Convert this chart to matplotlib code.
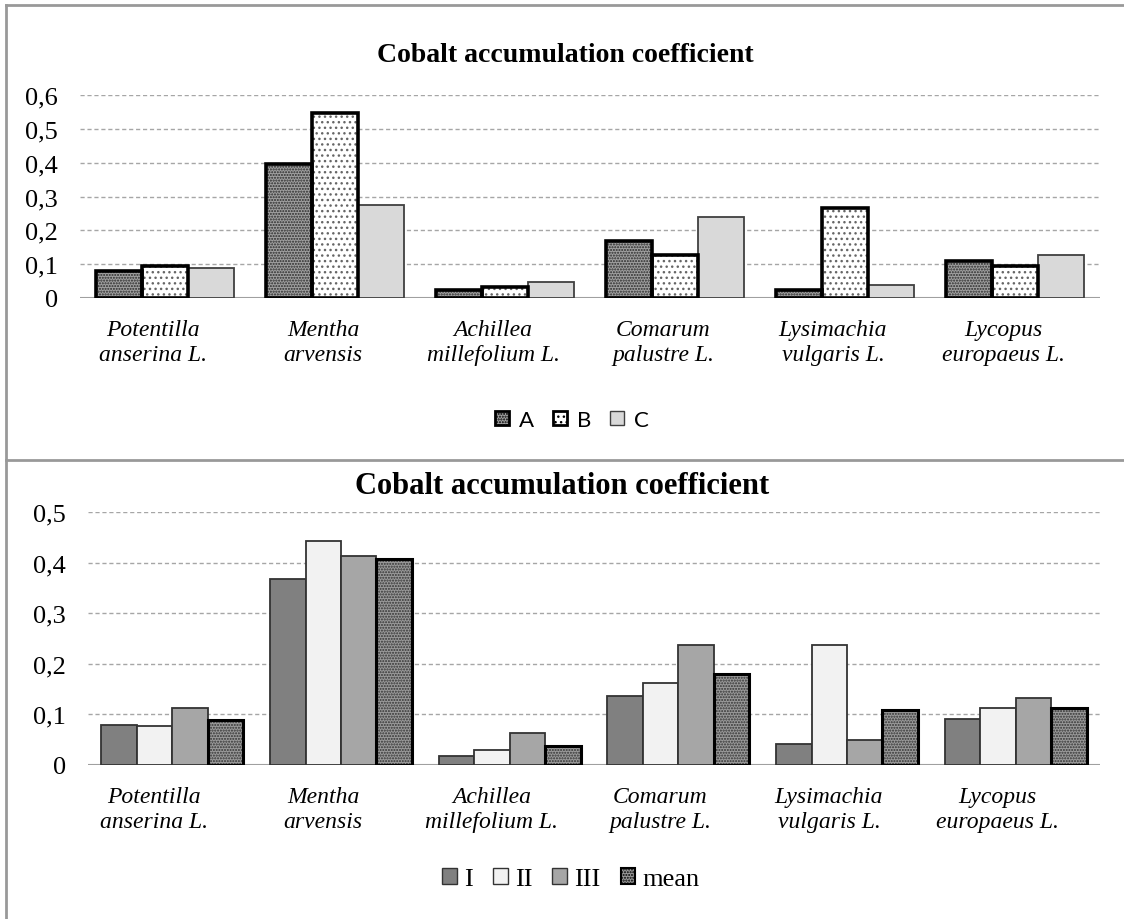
import matplotlib.pyplot as plt
import matplotlib.transforms as mtransforms
from matplotlib.patches import Patch
from matplotlib.lines import Line2D
import numpy as np

# species shown on both panels
species = ['Potentilla\nanserina L.', 'Mentha\narvensis', 'Achillea\nmillefolium L.',
           'Comarum\npalustre L.', 'Lysimachia\nvulgaris L.', 'Lycopus\neuropaeus L.']

# top panel: sites A, B, C
top_labels = ['A', 'B', 'C']
top_A = [0.080, 0.395, 0.025, 0.168, 0.025, 0.109]
top_B = [0.094, 0.547, 0.033, 0.126, 0.265, 0.096]
top_C = [0.088, 0.276, 0.046, 0.239, 0.038, 0.127]
top_ticks = [0, 0.1, 0.2, 0.3, 0.4, 0.5, 0.6]

# bottom panel: replicates I, II, III and mean
bot_labels = ['I', 'II', 'III', 'mean']
bot_I = [0.079, 0.368, 0.018, 0.136, 0.041, 0.090]
bot_II = [0.077, 0.442, 0.030, 0.162, 0.237, 0.113]
bot_III = [0.113, 0.413, 0.063, 0.237, 0.049, 0.133]
bot_mean = [0.089, 0.408, 0.038, 0.179, 0.108, 0.112]
bot_ticks = [0, 0.1, 0.2, 0.3, 0.4, 0.5]

serif = ['Liberation Serif', 'DejaVu Serif']
W, H = 1124, 920
fig = plt.figure(figsize=(W / 100, H / 100), dpi=100)


def fx(px):
    return px / W


def fy(py):
    return 1 - py / H


def style_axes(ax, ticks, ymax, xlabel_shift):
    ax.set_ylim(0, ymax)
    ax.set_xlim(-0.5, len(species) - 0.5)
    ax.set_yticks(ticks)
    ax.set_yticklabels([('%g' % t).replace('.', ',') for t in ticks],
                       fontfamily=serif, fontsize=19)
    ax.set_xticks(range(len(species)))
    ax.set_xticklabels(species, fontfamily=serif, fontstyle='italic', fontsize=17,
                       linespacing=1.25)
    ax.tick_params(length=0, axis='y', pad=16)
    ax.tick_params(length=0, axis='x', pad=15)
    off = mtransforms.ScaledTranslation(xlabel_shift / 100, 0, fig.dpi_scale_trans)
    for lab in ax.get_xticklabels():
        lab.set_transform(lab.get_transform() + off)
    for s in ax.spines.values():
        s.set_visible(False)
    ax.yaxis.grid(True, linestyle=(0, (3, 2)), color='#a6a6a6', linewidth=1)
    ax.set_axisbelow(True)
    ax.axhline(0, color='#a0a0a0', linewidth=1.5, zorder=1.5)


def bars(ax, x, vals, w, face, hatch=None, hcolor='k', edge='k', lw=1.2):
    if hatch:
        ax.bar(x, vals, w, color=face, hatch=hatch, edgecolor=hcolor, linewidth=0, zorder=2)
        ax.bar(x, vals, w, fill=False, edgecolor=edge, linewidth=lw, zorder=3)
    else:
        ax.bar(x, vals, w, color=face, edgecolor=edge, linewidth=lw, zorder=2)


x = np.arange(len(species))

# ---- top panel
ax1 = fig.add_axes([fx(80), fy(299), fx(1020), fy(96) - fy(299)])
w1 = 0.27
bars(ax1, x - w1, top_A, w1, '#a0a0a0', '......', '#2a2a2a', 'black', 2.6)
bars(ax1, x, top_B, w1, 'white', '...', '#666666', 'black', 2.6)
bars(ax1, x + w1, top_C, w1, '#d9d9d9', edge='#404040', lw=1.3)
style_axes(ax1, top_ticks, 0.6, -12)
fig.text(fx(565), fy(56), 'Cobalt accumulation coefficient', ha='center', va='center',
         fontfamily=serif, fontweight='bold', fontsize=20)

h1 = [Patch(facecolor='#a0a0a0', hatch='......', edgecolor='black', linewidth=2),
      Patch(facecolor='white', hatch='...', edgecolor='black', linewidth=2),
      Patch(facecolor='#d9d9d9', edgecolor='#404040', linewidth=1)]
fig.legend(h1, top_labels, loc='center', bbox_to_anchor=(fx(572), fy(421)), ncol=3,
           frameon=False, prop={'family': ['Lato', 'DejaVu Sans'], 'size': 16},
           handlelength=0.63, handleheight=0.63, handletextpad=0.45, columnspacing=0.85)

# ---- bottom panel
ax2 = fig.add_axes([fx(88), fy(766), fx(1012), fy(513) - fy(766)])
w2 = 0.21
bars(ax2, x - 1.5 * w2, bot_I, w2, '#808080', edge='#333333', lw=1.3)
bars(ax2, x - 0.5 * w2, bot_II, w2, '#f2f2f2', edge='#333333', lw=1.3)
bars(ax2, x + 0.5 * w2, bot_III, w2, '#a6a6a6', edge='#333333', lw=1.3)
bars(ax2, x + 1.5 * w2, bot_mean, w2, '#9a9a9a', '......', '#333333', 'black', 2.2)
style_axes(ax2, bot_ticks, 0.5, -18)
fig.text(fx(562), fy(487), 'Cobalt accumulation coefficient', ha='center', va='center',
         fontfamily=serif, fontweight='bold', fontsize=22)

h2 = [Patch(facecolor='#808080', edgecolor='#333333', linewidth=1),
      Patch(facecolor='#f2f2f2', edgecolor='#333333', linewidth=1),
      Patch(facecolor='#a6a6a6', edgecolor='#333333', linewidth=1),
      Patch(facecolor='#9a9a9a', hatch='......', edgecolor='black', linewidth=1.5)]
fig.legend(h2, bot_labels, loc='center', bbox_to_anchor=(fx(571), fy(880)), ncol=4,
           frameon=False, prop={'family': serif, 'size': 19},
           handlelength=0.55, handleheight=0.55, handletextpad=0.28, columnspacing=0.76)

# panel borders
for line in [Line2D([fx(6), fx(6)], [fy(6), 0]),
             Line2D([fx(6), 1], [fy(6), fy(6)]),
             Line2D([fx(6), 1], [fy(461), fy(461)])]:
    line.set_color('#999999')
    line.set_linewidth(2)
    fig.add_artist(line)

plt.savefig('out.png', dpi=100)
